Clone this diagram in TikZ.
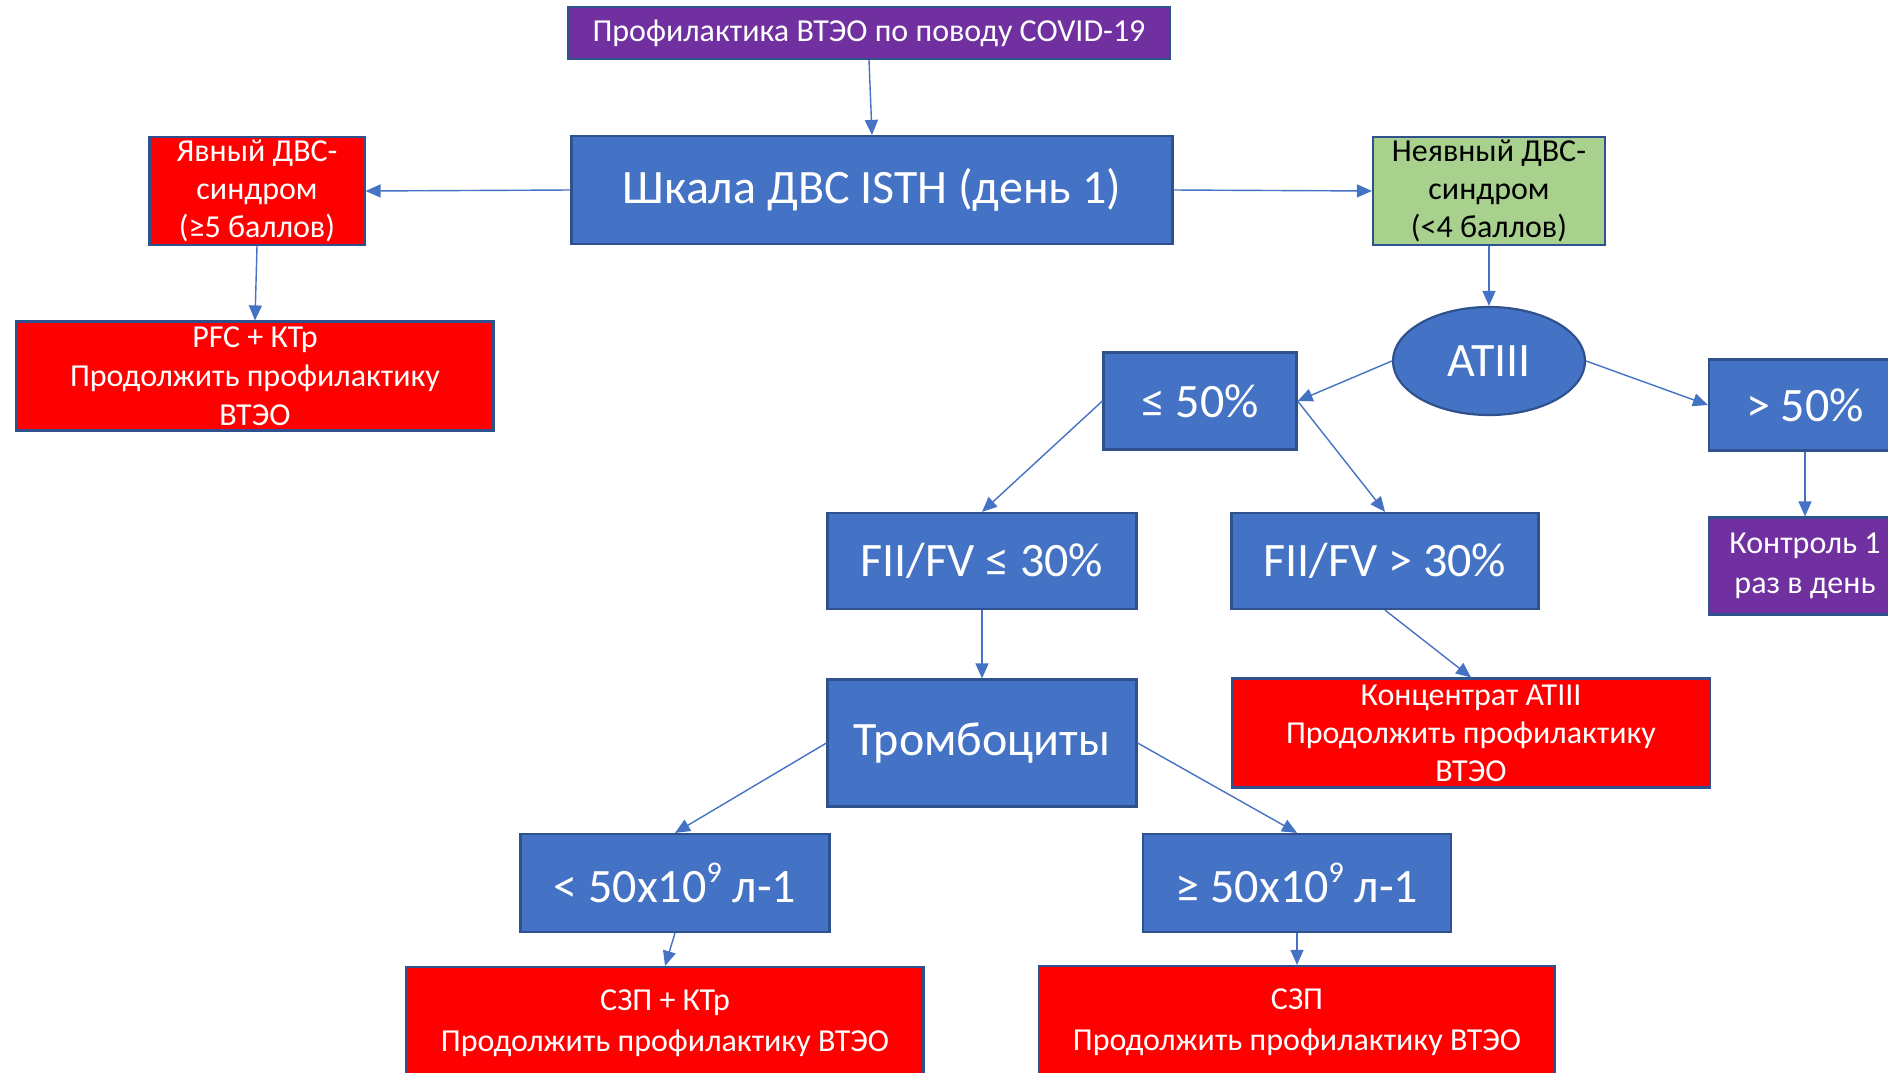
\documentclass[tikz,border=0pt]{standalone}
\usepackage{fontspec}
\setmainfont{Carlito}
\usetikzlibrary{arrows.meta,shapes.geometric}
\definecolor{bblue}{HTML}{4472C4}
\definecolor{bborder}{HTML}{2F528F}
\definecolor{rred}{HTML}{FF0000}
\definecolor{ggreen}{HTML}{A9D18E}
\definecolor{ppurple}{HTML}{7030A0}
\newcommand{\supnine}{\raisebox{0.42em}{\fontsize{30}{30}\selectfont 9}}
\tikzset{
  box/.style={rectangle, draw=bborder, line width=2.2pt, inner sep=0pt, align=center, text=white},
  bluebox/.style={box, fill=bblue},
  redbox/.style={box, fill=rred},
  greenbox/.style={box, fill=ggreen, text=black},
  purplebox/.style={box, fill=ppurple},
  big/.style={font=\fontsize{48}{56}\selectfont},
  small/.style={font=\fontsize{32}{40}\selectfont},
  conn/.style={draw=bblue, line width=1.4pt, -{Triangle[length=15pt,width=13pt]}}
}
\begin{document}
\begin{tikzpicture}[x=1pt,y=-1pt]
\fill[white] (0,0) rectangle (1888,1072);
\useasboundingbox (0,0) rectangle (1888,1072);

\node[purplebox, small, minimum width=602pt, minimum height=52pt] (top) at (869,33) {Профилактика ВТЭО по поводу COVID-19};
\node[bluebox, big, minimum width=601pt, minimum height=108pt] (scale) at (872,190) {Шкала ДВС ISTH (день 1)};
\node[redbox, minimum width=215pt, minimum height=108pt, font=\fontsize{32}{38}\selectfont] (yav) at (257,191) {Явный ДВС-\\синдром\\(≥5 баллов)};
\node[greenbox, minimum width=232pt, minimum height=108pt, font=\fontsize{32}{38}\selectfont] (neyav) at (1489,191) {Неявный ДВС-\\синдром\\(<4 баллов)};
\node[redbox, minimum width=477pt, minimum height=109pt, font=\fontsize{32}{39}\selectfont] (pfc) at (255,376) {PFC + КТр\\Продолжить профилактику\\ВТЭО};
\node[ellipse, draw=bborder, line width=2.2pt, fill=bblue, text=white, big, minimum width=192pt, minimum height=108pt, inner sep=0pt] (atiii) at (1489,361) {ATIII};
\node[bluebox, big, minimum width=193pt, minimum height=97pt] (le50) at (1200,401) {≤ 50\%};
\node[bluebox, big, minimum width=192pt, minimum height=91pt] (gt50) at (1805,405) {> 50\%};
\node[purplebox, minimum width=192pt, minimum height=97pt, font=\fontsize{32}{40}\selectfont] (kontr) at (1805,566) {Контроль 1\\раз в день};
\node[bluebox, big, minimum width=309pt, minimum height=96pt] (fiile) at (982,561) {FII/FV ≤ 30\%};
\node[bluebox, big, minimum width=307pt, minimum height=96pt] (fiigt) at (1385,561) {FII/FV > 30\%};
\node[bluebox, big, minimum width=309pt, minimum height=127pt] (tromb) at (982,743) {Тромбоциты};
\node[redbox, minimum width=478pt, minimum height=109pt, font=\fontsize{32}{38}\selectfont] (konc) at (1471,733) {Концентрат ATIII\\Продолжить профилактику\\ВТЭО};
\node[bluebox, big, minimum width=309pt, minimum height=98pt] (lt50) at (675,883) {< 50x10\supnine{} л-1};
\node[bluebox, big, minimum width=308pt, minimum height=98pt] (ge50) at (1297,883) {≥ 50x10\supnine{} л-1};
\node[redbox, minimum width=517pt, minimum height=112pt, font=\fontsize{32}{41}\selectfont] (szpkt) at (665,1023) {СЗП + КТр\\Продолжить профилактику ВТЭО};
\node[redbox, minimum width=516pt, minimum height=112pt, font=\fontsize{32}{41}\selectfont] (szp) at (1297,1022) {СЗП\\Продолжить профилактику ВТЭО};

\draw[conn] (top.south) -- (scale.north);
\draw[conn] (scale.west) -- (yav.east);
\draw[conn] (scale.east) -- (neyav.west);
\draw[conn] (yav.south) -- (pfc.north);
\draw[conn] (neyav.south) -- (atiii.north);
\draw[conn] (atiii.west) -- (le50.east);
\draw[conn] (atiii.east) -- (gt50.west);
\draw[conn] (le50.west) -- (fiile.north);
\draw[conn] (le50.east) -- (fiigt.north);
\draw[conn] (gt50.south) -- (kontr.north);
\draw[conn] (fiile.south) -- (tromb.north);
\draw[conn] (fiigt.south) -- (konc.north);
\draw[conn] (tromb.west) -- (lt50.north);
\draw[conn] (tromb.east) -- (ge50.north);
\draw[conn] (lt50.south) -- (szpkt.north);
\draw[conn] (ge50.south) -- (szp.north);
\end{tikzpicture}
\end{document}
